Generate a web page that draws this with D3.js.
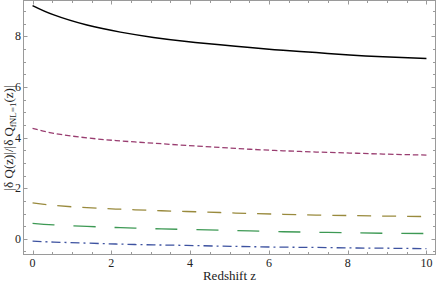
<!DOCTYPE html>
<html><head><meta charset="utf-8">
<script src="https://cdn.jsdelivr.net/npm/d3@7"></script>
<style>html,body{margin:0;padding:0;background:#fff;}svg{display:block;} text{font-family:"Liberation Serif","DejaVu Serif",serif;}</style>
</head><body>
<svg id="c" width="437" height="284"></svg>
<script>
const zValues = [0, 0.54, 1.38, 2.23, 3.07, 3.91, 4.76, 5.52, 6.36, 7.2, 8.05, 8.9, 10];
const seriesBlack  = [9.22, 8.85, 8.45, 8.17, 7.96, 7.80, 7.67, 7.56, 7.45, 7.36, 7.27, 7.20, 7.13];
const seriesPurple = [4.37, 4.17, 3.99, 3.87, 3.78, 3.69, 3.61, 3.54, 3.48, 3.43, 3.39, 3.35, 3.31];
const seriesOlive  = [1.42, 1.32, 1.23, 1.17, 1.12, 1.08, 1.04, 1.00, 0.97, 0.94, 0.92, 0.90, 0.88];
const seriesGreen  = [0.61, 0.55, 0.49, 0.44, 0.40, 0.37, 0.34, 0.31, 0.28, 0.26, 0.24, 0.22, 0.21];
const seriesBlue   = [-0.09, -0.13, -0.17, -0.21, -0.24, -0.26, -0.29, -0.31, -0.33, -0.34, -0.36, -0.37, -0.39];
const xTickLabels = [0, 2, 4, 6, 8, 10];
const yTickLabels = [0, 2, 4, 6, 8];

const series = [
  {vals: seriesBlue,   color: "#3d52a0", dash: "9,4,2,4", w: 1.3},
  {vals: seriesGreen,  color: "#3d9954", dash: "22,19", w: 1.3},
  {vals: seriesOlive,  color: "#998a3d", dash: "14,11", w: 1.3},
  {vals: seriesPurple, color: "#993d70", dash: "5.5,2.8", w: 1.3},
  {vals: seriesBlack,  color: "#000000", dash: null, w: 1.5}
];

const svg = d3.select("#c");
const L = 23.5, R = 435.5, T = 0.5, B = 254.5;
const x = d3.scaleLinear().domain([-0.23, 10.23]).range([L, R]);
const y = d3.scaleLinear().domain([-0.62, 9.42]).range([B, T]);

const line = d3.line().x((d) => x(d[0])).y((d) => y(d[1])).curve(d3.curveNatural);
series.forEach(s => {
  svg.append("path")
    .attr("d", line(zValues.map((z, i) => [z, s.vals[i]])))
    .attr("fill", "none")
    .attr("stroke", s.color)
    .attr("stroke-width", s.w)
    .attr("stroke-dasharray", s.dash);
});

// frame
const frameColor = "#9a9a9a";
svg.append("rect").attr("x", L).attr("y", T).attr("width", R - L).attr("height", B - T)
  .attr("fill", "none").attr("stroke", frameColor).attr("stroke-width", 1);

const xMinor = d3.range(0, 10.01, 0.5);
const yMinor = d3.range(-0.5, 9.01, 0.5);
const g = svg.append("g").attr("stroke", frameColor).attr("stroke-width", 1);
xMinor.forEach(v => {
  const major = Math.abs(v % 2) < 1e-9;
  const len = major ? 4 : 2.5;
  const px = Math.round(x(v)) + 0.5;
  g.append("line").attr("x1", px).attr("x2", px).attr("y1", B).attr("y2", B - len);
  g.append("line").attr("x1", px).attr("x2", px).attr("y1", T).attr("y2", T + len);
});
yMinor.forEach(v => {
  const major = Math.abs(v % 2) < 1e-9;
  const len = major ? 4 : 2.5;
  const py = Math.round(y(v)) + 0.5;
  g.append("line").attr("x1", L).attr("x2", L + len).attr("y1", py).attr("y2", py);
  g.append("line").attr("x1", R).attr("x2", R - len).attr("y1", py).attr("y2", py);
});

svg.append("g").selectAll("text").data(xTickLabels).join("text")
  .attr("x", d => x(d)).attr("y", 266.5)
  .attr("text-anchor", "middle").attr("font-size", 12).attr("fill", "#222")
  .text(d => d);
svg.append("g").selectAll("text").data(yTickLabels).join("text")
  .attr("x", 21).attr("y", d => y(d) + 4)
  .attr("text-anchor", "end").attr("font-size", 12).attr("fill", "#222")
  .text(d => d);

svg.append("text").attr("x", (L + R) / 2).attr("y", 280)
  .attr("text-anchor", "middle").attr("font-size", 13).attr("fill", "#222")
  .text("Redshift z");

const yl = svg.append("text")
  .attr("transform", "translate(13,138) rotate(-90)")
  .attr("text-anchor", "middle").attr("font-size", 13).attr("fill", "#222");
yl.append("tspan").text("|δ Q(z)|/|δ Q");
yl.append("tspan").attr("font-size", 9).attr("dy", 3).text("fNL=1");
yl.append("tspan").attr("dy", -3).text("(z)|");
</script>
</body></html>
